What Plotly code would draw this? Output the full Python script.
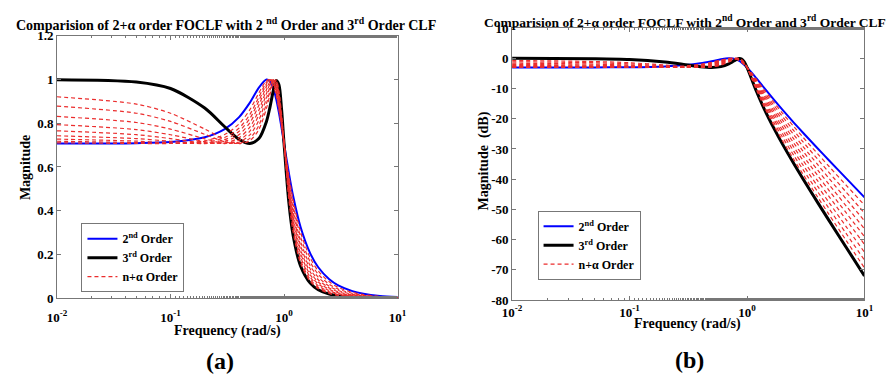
import plotly.graph_objects as go

# ---------------- data ----------------
freq = [0.01, 0.05, 0.1, 0.2, 0.3, 0.4, 0.5, 0.6, 0.7, 0.75, 0.8, 0.85, 0.9, 0.95,
        1.0, 1.1, 1.2, 1.4, 1.7, 2, 2.5, 3, 4, 5, 7, 10]

mag_2nd = [0.7072, 0.7089, 0.7140, 0.7359, 0.7733, 0.8269, 0.8944, 0.9630, 0.9998, 0.9923, 0.9630, 0.9136, 0.8499, 0.7790,
           0.7071, 0.5758, 0.4696, 0.3240, 0.2048, 0.1414, 0.0866, 0.0587, 0.0322, 0.0204, 0.0103, 0.0050]
mag_3rd = [0.9996, 0.9890, 0.9589, 0.8695, 0.7840, 0.7272, 0.7071, 0.7300, 0.8085, 0.8716, 0.9433, 0.9957, 0.9775, 0.8652,
           0.7071, 0.4430, 0.2890, 0.1460, 0.0686, 0.0384, 0.0182, 0.0101, 0.0041, 0.0021, 0.0007, 0.0003]
mag_a1 = [0.7104, 0.7076, 0.7076, 0.7196, 0.7486, 0.7960, 0.8621, 0.9386, 0.9951, 0.9986, 0.9771, 0.9302, 0.8636, 0.7863,
          0.7071, 0.5634, 0.4503, 0.3009, 0.1842, 0.1244, 0.0745, 0.0493, 0.0262, 0.0162, 0.0079, 0.0037]
mag_a2 = [0.7178, 0.7115, 0.7075, 0.7121, 0.7347, 0.7769, 0.8402, 0.9196, 0.9883, 1.0000, 0.9853, 0.9413, 0.8732, 0.7916,
          0.7071, 0.5508, 0.4310, 0.2790, 0.1655, 0.1093, 0.0637, 0.0414, 0.0214, 0.0129, 0.0061, 0.0028]
mag_a3 = [0.7275, 0.7182, 0.7105, 0.7085, 0.7251, 0.7622, 0.8223, 0.9026, 0.9803, 0.9992, 0.9909, 0.9503, 0.8816, 0.7963,
          0.7071, 0.5379, 0.4120, 0.2583, 0.1485, 0.0961, 0.0545, 0.0347, 0.0174, 0.0103, 0.0047, 0.0021]
mag_a4 = [0.7428, 0.7297, 0.7174, 0.7071, 0.7164, 0.7473, 0.8027, 0.8825, 0.9688, 0.9959, 0.9959, 0.9603, 0.8914, 0.8020,
          0.7071, 0.5247, 0.3931, 0.2387, 0.1332, 0.0843, 0.0466, 0.0291, 0.0141, 0.0082, 0.0036, 0.0015]
mag_a5 = [0.7656, 0.7478, 0.7299, 0.7096, 0.7100, 0.7331, 0.7822, 0.8598, 0.9533, 0.9891, 0.9992, 0.9706, 0.9025, 0.8085,
          0.7071, 0.5114, 0.3746, 0.2204, 0.1193, 0.0740, 0.0398, 0.0244, 0.0115, 0.0065, 0.0028, 0.0011]
mag_a6 = [0.7938, 0.7711, 0.7474, 0.7162, 0.7072, 0.7220, 0.7641, 0.8376, 0.9359, 0.9795, 0.9999, 0.9797, 0.9136, 0.8154,
          0.7071, 0.4978, 0.3564, 0.2033, 0.1069, 0.0649, 0.0340, 0.0204, 0.0094, 0.0052, 0.0021, 0.0008]
mag_a7 = [0.8313, 0.8035, 0.7731, 0.7289, 0.7085, 0.7132, 0.7466, 0.8142, 0.9148, 0.9657, 0.9976, 0.9882, 0.9258, 0.8232,
          0.7071, 0.4842, 0.3388, 0.1873, 0.0957, 0.0570, 0.0291, 0.0171, 0.0076, 0.0041, 0.0016, 0.0006]
mag_a8 = [0.8781, 0.8459, 0.8085, 0.7494, 0.7152, 0.7080, 0.7310, 0.7905, 0.8902, 0.9474, 0.9911, 0.9950, 0.9388, 0.8322,
          0.7071, 0.4704, 0.3216, 0.1725, 0.0857, 0.0500, 0.0249, 0.0144, 0.0062, 0.0033, 0.0013, 0.0005]
mag_a9 = [0.9213, 0.8876, 0.8457, 0.7735, 0.7262, 0.7073, 0.7202, 0.7714, 0.8682, 0.9291, 0.9822, 0.9987, 0.9500, 0.8405,
          0.7071, 0.4567, 0.3050, 0.1587, 0.0767, 0.0438, 0.0213, 0.0121, 0.0050, 0.0026, 0.0010, 0.0003]

db_2nd = [-3.01, -2.99, -2.93, -2.66, -2.23, -1.65, -0.97, -0.33, 0.00, -0.07, -0.33, -0.78, -1.41, -2.17,
          -3.01, -4.79, -6.56, -9.79, -13.77, -16.99, -21.25, -24.63, -29.83, -33.81, -39.73, -45.98]
db_3rd = [0.00, -0.10, -0.36, -1.22, -2.11, -2.77, -3.01, -2.73, -1.85, -1.19, -0.51, -0.04, -0.20, -1.26,
          -3.01, -7.07, -10.78, -16.71, -23.27, -28.31, -34.81, -39.91, -47.74, -53.72, -62.60, -71.98]
db_a1 = [-2.97, -3.00, -3.00, -2.86, -2.52, -1.98, -1.29, -0.55, -0.04, -0.01, -0.20, -0.63, -1.27, -2.09,
         -3.01, -4.98, -6.93, -10.43, -14.69, -18.10, -22.56, -26.13, -31.62, -35.80, -42.02, -48.58]
db_a2 = [-2.88, -2.96, -3.00, -2.95, -2.68, -2.19, -1.51, -0.73, -0.10, 0.00, -0.13, -0.53, -1.18, -2.03,
         -3.01, -5.18, -7.31, -11.09, -15.62, -19.22, -23.92, -27.66, -33.41, -37.79, -44.31, -51.18]
db_a3 = [-2.76, -2.88, -2.97, -3.00, -2.79, -2.36, -1.70, -0.89, -0.17, -0.01, -0.08, -0.44, -1.10, -1.98,
         -3.01, -5.39, -7.70, -11.76, -16.57, -20.35, -25.28, -29.20, -35.20, -39.78, -46.60, -53.78]
db_a4 = [-2.58, -2.74, -2.89, -3.01, -2.90, -2.53, -1.91, -1.09, -0.28, -0.04, -0.04, -0.35, -1.00, -1.92,
         -3.01, -5.60, -8.11, -12.44, -17.51, -21.48, -26.64, -30.73, -37.00, -41.77, -48.89, -56.38]
db_a5 = [-2.32, -2.53, -2.73, -2.98, -2.98, -2.70, -2.13, -1.31, -0.42, -0.10, -0.01, -0.26, -0.89, -1.85,
         -3.01, -5.83, -8.53, -13.14, -18.46, -22.61, -28.00, -32.26, -38.79, -43.76, -51.18, -58.98]
db_a6 = [-2.01, -2.26, -2.53, -2.90, -3.01, -2.83, -2.34, -1.54, -0.58, -0.18, 0.00, -0.18, -0.79, -1.77,
         -3.01, -6.06, -8.96, -13.84, -19.42, -23.75, -29.36, -33.79, -40.58, -45.75, -53.46, -61.58]
db_a7 = [-1.60, -1.90, -2.24, -2.75, -2.99, -2.94, -2.54, -1.79, -0.77, -0.30, -0.02, -0.10, -0.67, -1.69,
         -3.01, -6.30, -9.40, -14.55, -20.38, -24.89, -30.72, -35.32, -42.37, -47.75, -55.75, -64.18]
db_a8 = [-1.13, -1.45, -1.85, -2.51, -2.91, -3.00, -2.72, -2.04, -1.01, -0.47, -0.08, -0.04, -0.55, -1.60,
         -3.01, -6.55, -9.85, -15.26, -21.35, -26.03, -32.09, -36.85, -44.16, -49.74, -58.04, -66.78]
db_a9 = [-0.71, -1.04, -1.46, -2.23, -2.78, -3.01, -2.85, -2.25, -1.23, -0.64, -0.16, -0.01, -0.45, -1.51,
         -3.01, -6.81, -10.31, -15.99, -22.31, -27.17, -33.45, -38.38, -45.96, -51.73, -60.33, -69.38]

x_tickvals = [0.01, 0.1, 1, 10]
x_ticktext = ["10<sup>-2</sup>", "10<sup>-1</sup>", "10<sup>0</sup>", "10<sup>1</sup>"]
y1_tickvals = [0, 0.2, 0.4, 0.6, 0.8, 1.0, 1.2]
y1_ticktext = ["0", "0.2", "0.4", "0.6", "0.8", "1", "1.2"]
y2_tickvals = [-80, -70, -60, -50, -40, -30, -20, -10, 0, 10]
y2_ticktext = ["-80", "-70", "-60", "-50", "-40", "-30", "-20", "-10", "0", "10"]

mag_frac = [mag_a1, mag_a2, mag_a3, mag_a4, mag_a5, mag_a6, mag_a7, mag_a8, mag_a9]
db_frac = [db_a1, db_a2, db_a3, db_a4, db_a5, db_a6, db_a7, db_a8, db_a9]

# ---------------- styling ----------------
SERIF = "'Liberation Serif', 'Times New Roman', 'DejaVu Serif', serif"
BLUE = "#0000ff"
BLACK = "#000000"
RED = "rgb(235,45,45)"
W, H = 895, 383


def px(v):
    return v / W


def py(v):
    return 1 - v / H


fig = go.Figure()

for col, (xa, ya, y2nd, y3rd, yfrac, lg) in enumerate([
    ("x", "y", mag_2nd, mag_3rd, mag_frac, "legend"),
    ("x2", "y2", db_2nd, db_3rd, db_frac, "legend2"),
]):
    fig.add_trace(go.Scatter(x=freq, y=y2nd, mode="lines", xaxis=xa, yaxis=ya,
                             line=dict(color=BLUE, width=2, shape="spline", smoothing=0.8),
                             name="2<sup>nd</sup> Order", legend=lg))
    fig.add_trace(go.Scatter(x=freq, y=y3rd, mode="lines", xaxis=xa, yaxis=ya,
                             line=dict(color=BLACK, width=3, shape="spline", smoothing=0.8),
                             name="3<sup>rd</sup> Order", legend=lg))
    for i, ys in enumerate(yfrac):
        fig.add_trace(go.Scatter(x=freq, y=ys, mode="lines", xaxis=xa, yaxis=ya,
                                 line=dict(color=RED, width=1.2, dash="4px,3px",
                                           shape="spline", smoothing=0.8),
                                 name="n+\u03b1 Order", legend=lg,
                                 showlegend=(i == 0)))

axis_common = dict(showline=True, mirror="allticks", linecolor="#777777", linewidth=1,
                   ticks="inside", ticklen=4, tickcolor="#777777", showgrid=False,
                   zeroline=False,
                   tickfont=dict(family=SERIF, size=13, color="black", weight="bold"))

fig.update_layout(
    width=W, height=H,
    margin=dict(l=0, r=0, t=0, b=0),
    paper_bgcolor="white", plot_bgcolor="white",
    font=dict(family=SERIF, color="black"),
    xaxis=dict(domain=[px(48), px(396)], type="log", range=[-2, 1], anchor="y",
               tickvals=x_tickvals, ticktext=x_ticktext, ticklabelstandoff=7,
               minor=dict(ticks="inside", ticklen=2, tickcolor="#777777", showgrid=False),
               **axis_common),
    yaxis=dict(domain=[py(303), py(30)], range=[0, 1.2], anchor="x",
               tickvals=y1_tickvals, ticktext=y1_ticktext, **axis_common),
    xaxis2=dict(domain=[px(513), px(873)], type="log", range=[-2, 1], anchor="y2",
                tickvals=x_tickvals, ticktext=x_ticktext,
                minor=dict(ticks="inside", ticklen=2, tickcolor="#777777", showgrid=False),
                **axis_common),
    yaxis2=dict(domain=[py(305), py(22)], range=[-80, 10], anchor="x2",
                tickvals=y2_tickvals, ticktext=y2_ticktext, **axis_common),
    legend=dict(x=px(73), y=py(225), xanchor="left", yanchor="top",
                bgcolor="white", bordercolor="#777777", borderwidth=1,
                font=dict(family=SERIF, size=12, color="black", weight="bold"),
                tracegroupgap=0, itemwidth=30),
    legend2=dict(x=px(539), y=py(212), xanchor="left", yanchor="top",
                 bgcolor="white", bordercolor="#777777", borderwidth=1,
                 font=dict(family=SERIF, size=12, color="black", weight="bold"),
                 tracegroupgap=0, itemwidth=30),
    showlegend=True,
)

title_txt_a = "Comparision of 2+\u03b1 order FOCLF with 2 <sup>nd</sup> Order and 3<sup>rd</sup> Order CLF"
title_txt_b = "Comparision of 2+\u03b1 order FOCLF with 2<sup>nd</sup> Order and 3<sup>rd</sup> Order CLF"

ann = [
    dict(text=title_txt_a, x=px(221), y=py(18), size=14),
    dict(text=title_txt_b, x=px(690), y=py(15), size=13.5),
    dict(text="Frequency (rad/s)", x=px(222), y=py(337), size=14),
    dict(text="Frequency (rad/s)", x=px(692), y=py(330), size=14),
    dict(text="(a)", x=px(215), y=py(368), size=24),
    dict(text="(b)", x=px(694), y=py(367), size=24),
]
for a in ann:
    fig.add_annotation(text=a["text"], x=a["x"], y=a["y"], xref="paper", yref="paper",
                       xanchor="center", yanchor="middle", showarrow=False,
                       font=dict(family=SERIF, size=a["size"], color="black", weight="bold"))

fig.add_annotation(text="Magnitude", x=px(16), y=py(167), xref="paper", yref="paper",
                   xanchor="center", yanchor="middle", showarrow=False, textangle=-90,
                   font=dict(family=SERIF, size=14, color="black", weight="bold"))
fig.add_annotation(text="Magnitude  (dB)", x=px(484), y=py(160), xref="paper", yref="paper",
                   xanchor="center", yanchor="middle", showarrow=False, textangle=-90,
                   font=dict(family=SERIF, size=14, color="black", weight="bold"))

fig.write_html("out.html")
